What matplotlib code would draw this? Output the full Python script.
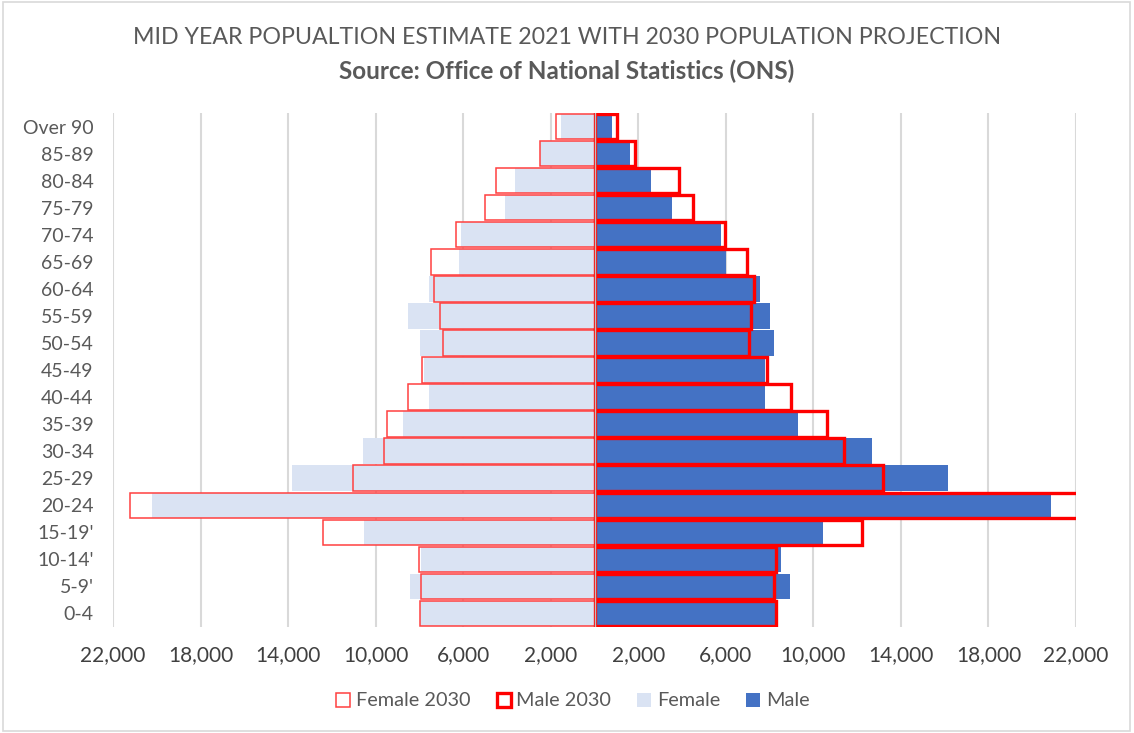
import matplotlib
matplotlib.use("Agg")
import matplotlib.pyplot as plt
from matplotlib.patches import Rectangle, Patch
from matplotlib.ticker import FixedLocator, FuncFormatter

plt.rcParams['font.family'] = ['Lato', 'DejaVu Sans']

# Categories from bottom (youngest) to top (oldest)
age_groups = ["0-4", "5-9'", "10-14'", "15-19'", "20-24", "25-29", "30-34", "35-39",
              "40-44", "45-49", "50-54", "55-59", "60-64", "65-69", "70-74", "75-79",
              "80-84", "85-89", "Over 90"]

male_2021 = [8310, 8910, 8500, 10460, 20880, 16170, 12700, 9320,
             7770, 7800, 8180, 8040, 7540, 6030, 5800, 3520,
             2600, 1640, 780]
female_2021 = [7990, 8450, 7950, 10550, 20240, 13800, 10600, 8770,
               7580, 7770, 7990, 8500, 7580, 6170, 6080, 4110,
               3610, 2470, 1550]
male_2030 = [8270, 8220, 8310, 12200, 22600, 13160, 11420, 10640,
             9000, 7900, 7080, 7170, 7310, 6990, 5980, 4480,
             3840, 1860, 1050]
female_2030 = [7990, 7950, 8040, 12420, 21240, 11050, 9640, 9500,
               8500, 7900, 6940, 7080, 7350, 7450, 6350, 5020,
               4480, 2510, 1740]

x_ticks = [-22000, -18000, -14000, -10000, -6000, -2000,
           2000, 6000, 10000, 14000, 18000, 22000]

title_line1 = "MID YEAR POPUALTION ESTIMATE 2021 WITH 2030 POPULATION PROJECTION"
title_line2 = "Source: Office of National Statistics (ONS)"

C_MALE = "#4472C4"
C_FEMALE = "#DAE3F3"
C_RED = "#FF0000"
C_FRED = "#FF4040"
GRID = "#D9D9D9"
TXT = "#595959"

fig = plt.figure(figsize=(11.34, 7.33), dpi=100)
ax = fig.add_axes([113/1134, 1 - 627/733, (1076-113)/1134, (627-113)/733])

y = list(range(len(age_groups)))
h = 0.94

ax.barh(y, [-v for v in female_2021], height=h, color=C_FEMALE, zorder=2, label="Female")
ax.barh(y, male_2021, height=h, color=C_MALE, zorder=2, label="Male")
ax.barh(y, [-v for v in female_2030], height=h, facecolor="none", edgecolor=C_FRED,
        linewidth=1.1, zorder=3, label="Female 2030")
ax.barh(y, male_2030, height=h, facecolor="none", edgecolor=C_RED,
        linewidth=2.4, zorder=4, label="Male 2030")

ax.set_xlim(-22000, 22000)
ax.set_ylim(-0.5, len(age_groups) - 0.5)
ax.xaxis.set_major_locator(FixedLocator(x_ticks))
ax.xaxis.set_major_formatter(FuncFormatter(lambda v, p: f"{abs(int(v)):,}"))
ax.set_yticks(y)
ax.set_yticklabels(age_groups)

ax.grid(axis="x", color=GRID, linewidth=1.5, zorder=0)
ax.axvline(0, color="#BFBFBF", linewidth=1.0, zorder=5)
for s in ax.spines.values():
    s.set_visible(False)
ax.tick_params(axis="both", length=0)
ax.tick_params(axis="x", labelsize=15, colors="#404040", pad=13)
ax.tick_params(axis="y", labelsize=14, colors=TXT, pad=14)

fig.text(0.5, 1 - 38/733, title_line1, ha="center", va="center", fontsize=16.7, color=TXT)
fig.text(0.5, 1 - 71/733, title_line2, ha="center", va="center", fontsize=17.5,
         color=TXT, fontweight="bold")

handles = [
    Patch(facecolor="white", edgecolor=C_FRED, linewidth=1.1, label="Female 2030"),
    Patch(facecolor="white", edgecolor=C_RED, linewidth=2.4, label="Male 2030"),
    Patch(facecolor=C_FEMALE, edgecolor="none", label="Female"),
    Patch(facecolor=C_MALE, edgecolor="none", label="Male"),
]
leg = fig.legend(handles=handles, loc="center", bbox_to_anchor=(573/1134, 1 - 701/733),
                 ncol=4, frameon=False, fontsize=14.3, handlelength=0.7, handleheight=0.7,
                 handletextpad=0.3, columnspacing=1.3)
for t in leg.get_texts():
    t.set_color(TXT)

fig.patches.append(Rectangle((3/1134, 2/733), 1127/1134, 729/733, transform=fig.transFigure,
                             fill=False, edgecolor=GRID, linewidth=1.2))

fig.savefig("out.png", dpi=100)
